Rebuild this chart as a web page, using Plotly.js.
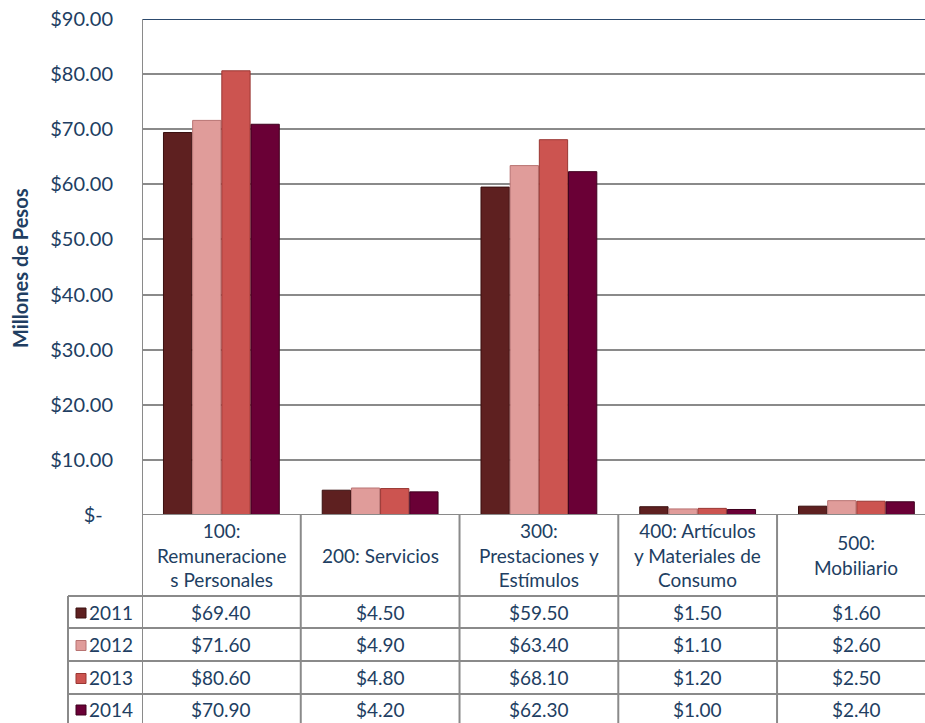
<!DOCTYPE html>
<html>
<head>
<meta charset="utf-8">
<script src="https://cdn.plot.ly/plotly-3.0.1.min.js"></script>
<style>html,body{margin:0;padding:0;background:#fff}#chart{width:925px;height:723px}</style>
</head>
<body>
<div id="chart"></div>
<script>
// ---- data ----
const categories = ["100:<br>Remuneracione<br>s Personales", "200: Servicios", "300:<br>Prestaciones y<br>Estímulos", "400: Artículos<br>y Materiales de<br>Consumo", "500:<br>Mobiliario"];
const years = ["2011", "2012", "2013", "2014"];
const v2011 = [69.40, 4.50, 59.50, 1.50, 1.60];
const v2012 = [71.60, 4.90, 63.40, 1.10, 2.60];
const v2013 = [80.60, 4.80, 68.10, 1.20, 2.50];
const v2014 = [70.90, 4.20, 62.30, 1.00, 2.40];
const yTickVals = [0, 10, 20, 30, 40, 50, 60, 70, 80, 90];
const yTickText = ["$-\u00a0\u00a0", "$10.00", "$20.00", "$30.00", "$40.00", "$50.00", "$60.00", "$70.00", "$80.00", "$90.00"];

// ---- styling ----
const series = [v2011, v2012, v2013, v2014];
const colors = ["#5e2020", "#e09c9a", "#cc5450", "#6a0036"];
const lineColors = ["#3a1010", "#b87372", "#9a3733", "#3f001e"];
const W = 925, H = 723;
const py = Y => 1 - Y / H;
const textColor = "#213e62";
const grid = "#8a8a8a";
const FONT = "Lato, 'Open Sans', sans-serif";

const xIdx = categories.map((c, i) => i);
const traces = series.map((vals, k) => ({
  type: "bar",
  x: xIdx,
  y: vals,
  name: years[k],
  marker: { color: colors[k], line: { color: lineColors[k], width: 1 } },
  hoverinfo: "y"
}));

const plotTop = 19, plotBottom = 515;
const rowLines = [596, 628, 661, 694];
const rowCenters = [612, 644.5, 677.5, 709];
const headerCenter = 555;

const shapes = [];
shapes.push({ type: "line", xref: "paper", yref: "y", x0: 142 / W, x1: 1, y0: 90, y1: 90, line: { color: "#2c4a6e", width: 2 } });
shapes.push({ type: "line", xref: "x", yref: "paper", x0: -0.5, x1: -0.5, y0: 0, y1: py(plotTop), line: { color: grid, width: 2 } });
shapes.push({ type: "line", xref: "paper", yref: "y", x0: 142 / W, x1: 1, y0: 0, y1: 0, line: { color: grid, width: 2 } });
for (let i = 0; i < categories.length - 1; i++) {
  shapes.push({ type: "line", xref: "x", yref: "paper", x0: i + 0.5, x1: i + 0.5, y0: 0, y1: py(plotBottom), line: { color: grid, width: 2 } });
}
rowLines.forEach(Y => shapes.push({ type: "line", xref: "paper", yref: "paper", x0: 68 / W, x1: 1, y0: py(Y), y1: py(Y), line: { color: grid, width: 2 } }));
shapes.push({ type: "line", xref: "paper", yref: "paper", x0: 68 / W, x1: 68 / W, y0: 0, y1: py(596), line: { color: grid, width: 2 } });
rowCenters.forEach((Y, k) => shapes.push({ type: "rect", xref: "paper", yref: "paper", x0: 76 / W, x1: 86 / W, y0: py(Y + 6), y1: py(Y - 4), fillcolor: colors[k], line: { color: lineColors[k], width: 1 } }));

const annotations = [];
categories.forEach((c, i) => annotations.push({ xref: "x", yref: "paper", x: i, y: py(headerCenter), text: c, showarrow: false, font: { family: FONT, size: 19, color: textColor }, align: "center", xanchor: "center", yanchor: "middle" }));
series.forEach((vals, k) => vals.forEach((v, i) => annotations.push({ xref: "x", yref: "paper", x: i, y: py(rowCenters[k]), text: "$" + v.toFixed(2), showarrow: false, font: { family: FONT, size: 19, color: textColor }, xanchor: "center", yanchor: "middle" })));
years.forEach((yr, k) => annotations.push({ xref: "paper", yref: "paper", x: 87 / W, y: py(rowCenters[k]), text: yr, showarrow: false, font: { family: FONT, size: 19, color: textColor }, xanchor: "left", yanchor: "middle" }));
annotations.push({ xref: "paper", yref: "paper", x: 20 / W, y: py(268), text: "<b>Millones de Pesos</b>", textangle: -90, showarrow: false, font: { family: FONT, size: 20, color: textColor }, xanchor: "center", yanchor: "middle" });

const layout = {
  width: W, height: H,
  margin: { l: 0, r: 0, t: 0, b: 0 },
  paper_bgcolor: "#fff", plot_bgcolor: "#fff",
  showlegend: false,
  barmode: "group",
  bargap: 0.265,
  bargroupgap: 0.03,
  xaxis: { domain: [142 / W, 1], range: [-0.5, 4.432], showticklabels: false, showgrid: false, zeroline: false, ticks: "", fixedrange: true },
  yaxis: {
    domain: [py(plotBottom), py(plotTop)], range: [0, 90],
    tickvals: yTickVals, ticktext: yTickText,
    tickfont: { family: FONT, size: 20, color: textColor },
    showgrid: true, gridcolor: grid, gridwidth: 2,
    zeroline: false, showline: false, ticks: "", ticklabelstandoff: 28, fixedrange: true
  },
  shapes: shapes,
  annotations: annotations
};

Plotly.newPlot("chart", traces, layout, { displayModeBar: false, staticPlot: true });
</script>
</body>
</html>
